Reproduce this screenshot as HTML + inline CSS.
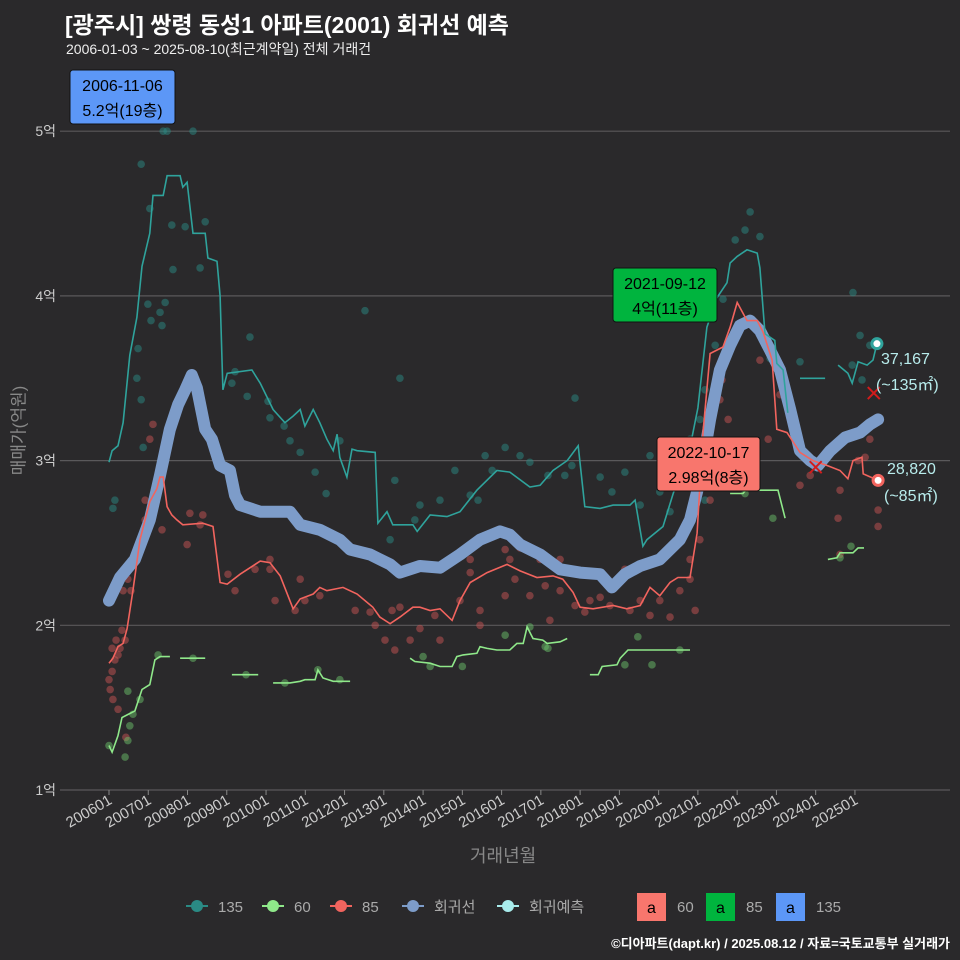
<!DOCTYPE html>
<html><head><meta charset="utf-8">
<style>
html,body{margin:0;padding:0;background:#2a292b;}
#wrap{position:relative;width:960px;height:960px;background:#2a292b;font-family:"Liberation Sans","Noto Sans CJK KR",sans-serif;color:#ddd;overflow:hidden}
.t{position:absolute;white-space:nowrap}
</style></head>
<body>
<div id="wrap">
<div class="t" style="left:65px;top:6px;font-size:23px;font-weight:bold;color:#fff">[광주시] 쌍령 동성1 아파트(2001) 회귀선 예측</div>
<div class="t" style="left:66px;top:39px;font-size:14px;color:#eee">2006-01-03 ~ 2025-08-10(최근계약일) 전체 거래건</div>
<div class="t" style="left:-28px;top:418px;font-size:17px;color:#888;transform:rotate(-90deg);width:90px;text-align:center">매매가(억원)</div>
<div class="t" style="left:470px;top:842px;font-size:18px;color:#888">거래년월</div>
<div class="t" style="right:10px;top:933px;font-size:13px;font-weight:bold;color:#fff">©디아파트(dapt.kr) / 2025.08.12 / 자료=국토교통부 실거래가</div>
<svg id="plot" width="960" height="960" style="position:absolute;left:0;top:0"></svg>
</div>
<script>
// ---- data ----
const yTicks=[1,2,3,4,5];
const yTickLabels=["1억","2억","3억","4억","5억"];
const xTickYears=[2006,2007,2008,2009,2010,2011,2012,2013,2014,2015,2016,2017,2018,2019,2020,2021,2022,2023,2024,2025];
const xTickLabels=["200601","200701","200801","200901","201001","201101","201201","201301","201401","201501","201601","201701","201801","201901","202001","202101","202201","202301","202401","202501"];

const regT=[2006.0,2006.28,2006.66,2007.04,2007.30,2007.55,2007.76,2007.94,2008.11,2008.24,2008.45,2008.62,2008.83,2009.08,2009.21,2009.34,2009.85,2010.61,2010.87,2011.37,2011.88,2012.14,2012.65,2013.16,2013.41,2013.92,2014.43,2014.94,2015.45,2015.96,2016.21,2016.47,2016.98,2017.49,2018.0,2018.51,2018.81,2019.14,2019.53,2020.03,2020.54,2020.80,2021.05,2021.31,2021.56,2021.82,2022.07,2022.33,2022.58,2022.84,2023.09,2023.35,2023.60,2023.86,2024.06,2024.37,2024.75,2025.13,2025.38,2025.59];
const regV=[2.15,2.29,2.40,2.64,2.91,3.19,3.34,3.43,3.52,3.44,3.19,3.13,2.97,2.94,2.79,2.73,2.69,2.69,2.61,2.58,2.52,2.46,2.43,2.37,2.32,2.36,2.35,2.43,2.52,2.57,2.55,2.49,2.43,2.34,2.32,2.31,2.23,2.31,2.36,2.40,2.52,2.64,2.88,3.25,3.55,3.70,3.82,3.85,3.79,3.67,3.55,3.31,3.06,3.00,2.97,3.06,3.14,3.17,3.22,3.25];

const s135T=[2006.00,2006.08,2006.23,2006.36,2006.53,2006.71,2006.84,2007.04,2007.12,2007.38,2007.48,2007.81,2007.88,2007.99,2008.14,2008.45,2008.52,2008.75,2008.83,2008.90,2009.01,2009.64,2009.85,2010.18,2010.48,2010.69,2010.87,2010.99,2011.20,2011.37,2011.55,2011.71,2011.81,2011.88,2012.06,2012.19,2012.32,2012.78,2012.85,2013.08,2013.23,2013.74,2013.85,2014.18,2014.61,2014.94,2015.37,2015.88,2016.21,2016.72,2016.98,2017.31,2017.67,2017.95,2018.12,2018.51,2018.84,2019.27,2019.40,2019.60,2019.70,2020.11,2020.37,2020.80,2021.00,2021.23,2021.49,2021.74,2021.82,2022.00,2022.25,2022.51,2022.58,2022.71,2022.96,2023.01,2023.17,2023.29,null,2023.60,2024.24,null,2024.57,2024.82,2024.93,2025.08,2025.31,2025.46,2025.56];
const s135V=[2.99,3.06,3.09,3.23,3.64,3.87,4.18,4.38,4.61,4.61,4.73,4.73,4.66,4.69,4.38,4.38,4.23,4.21,4.00,3.43,3.53,3.55,3.47,3.31,3.23,3.27,3.31,3.21,3.31,3.23,3.13,3.06,3.16,3.02,2.90,3.07,3.06,3.05,2.62,2.69,2.61,2.61,2.57,2.67,2.66,2.69,2.82,2.94,2.93,2.84,2.85,2.94,3.00,3.09,2.72,2.71,2.73,2.73,2.76,2.48,2.52,2.60,2.80,3.08,3.32,3.81,3.99,4.08,4.20,4.24,4.28,4.26,4.17,3.77,3.73,3.59,3.55,3.29,null,3.50,3.50,null,3.58,3.53,3.47,3.60,3.58,3.61,3.71];

const s85T=[2006.00,2006.10,2006.23,2006.36,2006.46,2006.61,2006.79,2006.92,2007.04,2007.22,2007.30,2007.38,2007.48,2007.60,2007.73,2007.88,2008.39,2008.65,2008.83,2009.01,2009.34,2009.85,2010.10,2010.36,2010.69,2010.87,2011.20,2011.37,2011.55,2011.96,2012.32,2012.72,2012.90,2013.16,2013.41,2013.74,2013.92,2014.18,2014.43,2014.74,2014.94,2015.20,2015.63,2016.14,2016.47,2016.90,2017.31,2017.56,2017.82,2018.00,2018.33,2018.84,2019.19,2019.53,2019.78,2020.03,2020.29,2020.49,2020.80,2020.98,2021.13,2021.31,2021.64,2021.82,2022.00,2022.25,2022.51,2022.66,2022.89,2023.01,2023.27,2023.60,2023.93,2024.29,2024.62,2024.82,2024.95,2025.18,2025.21,2025.59];
const s85V=[1.77,1.80,1.87,1.89,1.98,2.21,2.52,2.64,2.75,2.83,2.90,2.90,2.72,2.67,2.64,2.61,2.62,2.60,2.26,2.25,2.31,2.39,2.38,2.30,2.10,2.16,2.19,2.23,2.21,2.23,2.19,2.11,2.05,2.01,2.05,2.11,2.11,2.09,2.10,2.03,2.15,2.26,2.32,2.37,2.33,2.29,2.30,2.28,2.20,2.11,2.10,2.12,2.10,2.12,2.23,2.18,2.26,2.29,2.29,2.56,3.17,3.65,3.69,3.81,3.96,3.85,3.85,3.78,3.61,3.19,3.17,3.05,3.00,2.97,2.94,2.89,3.00,3.02,2.92,2.88];

const s60T=[2006.00,2006.08,2006.23,2006.33,2006.66,2006.84,2007.04,2007.17,2007.30,2007.55,null,2007.81,2008.45,null,2009.13,2009.80,null,2010.18,2010.61,2010.87,2010.99,2011.25,2011.32,2011.45,2011.71,2012.14,null,2013.67,2013.79,2014.18,2014.43,2014.74,2014.86,2015.02,2015.37,2015.45,2015.63,2015.88,2016.21,2016.39,2016.55,2016.65,2016.80,2017.05,2017.16,2017.49,2017.67,null,2018.25,2018.46,2018.56,2018.94,2019.02,2019.22,2020.80,null,2021.82,2022.15,2022.25,2022.58,2023.04,2023.22,null,2024.31,2024.54,2024.62,2024.95,2025.08,2025.23];
const s60V=[1.27,1.23,1.33,1.44,1.48,1.61,1.64,1.79,1.81,1.81,null,1.80,1.80,null,1.70,1.70,null,1.65,1.65,1.66,1.67,1.67,1.73,1.68,1.66,1.66,null,1.80,1.78,1.77,1.75,1.75,1.81,1.82,1.83,1.87,1.86,1.85,1.85,1.89,1.89,1.99,1.92,1.91,1.89,1.90,1.92,null,1.70,1.70,1.75,1.76,1.80,1.85,1.85,null,2.80,2.80,2.83,2.82,2.82,2.65,null,2.40,2.41,2.44,2.44,2.47,2.47];

const p135T=[2007.38,2007.48,2008.14,2006.82,2007.04,2007.60,2007.94,2008.45,2008.32,2007.63,2007.35,2007.43,2006.99,2007.07,2006.74,2006.71,2006.82,2006.87,2007.30,2006.15,2006.10,2009.59,2009.21,2009.13,2009.52,2010.05,2010.46,2010.10,2010.61,2010.87,2011.25,2011.53,2011.88,2012.52,2013.41,2013.28,2013.79,2014.43,2014.81,2015.20,2015.58,2015.76,2016.47,2016.72,2017.18,2017.61,2017.79,2018.51,2018.81,2019.14,2019.53,2020.03,2020.29,2020.80,2021.18,2021.44,2021.64,2021.95,2022.20,2022.33,2022.58,2022.84,2023.60,2024.95,2025.13,2025.18,2024.93,2025.38,2019.78,2017.87,2016.09,2015.40,2013.92,2013.16,2021.05,2020.80,2021.56,2021.18];
const p135V=[5.00,5.00,5.00,4.80,4.53,4.43,4.42,4.45,4.17,4.16,3.82,3.96,3.95,3.85,3.68,3.50,3.37,3.08,3.90,2.76,2.71,3.75,3.54,3.47,3.39,3.36,3.21,3.26,3.12,3.05,2.93,2.80,3.12,3.91,3.50,2.88,2.64,2.76,2.94,2.79,3.03,2.94,3.03,2.99,2.91,2.91,2.97,2.90,2.81,2.93,2.73,2.81,2.69,2.94,3.43,3.70,3.98,4.34,4.40,4.51,4.36,3.62,3.60,4.02,3.76,3.49,3.58,3.70,3.03,3.38,3.08,2.76,2.73,2.52,3.25,3.13,2.88,2.76];

const p85T=[2006.00,2006.08,2006.15,2006.23,2006.03,2006.10,2006.18,2006.28,2006.33,2006.41,2006.08,2006.23,2006.43,2006.36,2006.48,2006.56,2006.79,2006.92,2007.04,2007.12,2006.92,2007.35,2008.06,2008.32,2008.39,2007.99,2009.03,2009.21,2010.10,2009.72,2010.23,2010.10,2010.87,2010.99,2010.74,2011.37,2012.27,2012.65,2013.21,2013.41,2012.78,2013.03,2013.28,2013.67,2014.30,2015.20,2014.94,2016.09,2016.21,2016.47,2016.09,2016.72,2016.98,2017.11,2017.49,2017.87,2018.25,2018.51,2018.76,2018.12,2019.14,2019.53,2020.03,2020.29,2020.54,2020.80,2020.93,2021.05,2021.31,2021.44,2021.56,2021.61,2021.77,2021.82,2022.58,2022.79,2023.09,2023.60,2023.86,2024.11,2024.62,2024.57,2025.08,2025.26,2025.38,2025.59,2025.59,2024.62,2020.80,2019.78,2019.27,2017.23,2015.45,2015.45,2013.92,2014.43,2015.20,2016.34,2017.49];
const p85V=[1.67,1.72,1.79,1.82,1.61,1.55,1.91,1.86,1.97,1.91,1.86,1.49,1.32,2.21,2.28,2.21,2.52,2.64,3.13,3.22,2.76,2.58,2.68,2.61,2.67,2.49,2.31,2.21,2.40,2.34,2.15,2.34,2.28,2.15,2.09,2.18,2.09,2.08,2.09,2.11,2.00,1.91,1.85,1.91,2.06,2.32,2.15,2.46,2.40,2.47,2.18,2.18,2.40,2.24,2.21,2.12,2.15,2.17,2.12,2.08,2.34,2.15,2.15,2.05,2.21,2.40,2.09,2.52,2.76,2.94,3.37,3.49,3.25,3.70,3.61,3.13,3.40,2.85,2.91,2.97,2.82,2.65,3.00,3.02,3.13,2.70,2.60,2.43,2.28,2.06,2.09,2.03,2.00,2.09,1.98,1.91,2.40,2.28,2.40];

const p60T=[2006.00,2006.41,2006.48,2006.53,2006.61,2006.48,2006.79,2007.25,2008.14,2009.49,2010.48,2011.32,2011.88,2014.00,2014.18,2015.00,2016.09,2016.72,2017.11,2017.18,2019.14,2019.47,2019.83,2020.54,2022.20,2022.91,2024.62,2024.90];
const p60V=[1.27,1.20,1.30,1.39,1.46,1.60,1.55,1.82,1.80,1.70,1.65,1.73,1.67,1.81,1.75,1.75,1.94,1.99,1.87,1.86,1.76,1.93,1.76,1.85,2.80,2.65,2.41,2.48];

const pred135=[2025.56,3.71]; const pred85=[2025.59,2.88];
const cross85=[[2025.48,3.41],[2024.0,2.96]];

// ---- scales ----
const X0=109, XS=39.26, Y1=790, YS=164.7;
function xs(t){return X0+(t-2006)*XS;}
function ys(v){return Y1-(v-1)*YS;}
const svg=document.getElementById('plot');
const NS='http://www.w3.org/2000/svg';
function mk(tag,attrs,parent){const e=document.createElementNS(NS,tag);for(const k in attrs)e.setAttribute(k,attrs[k]);(parent||svg).appendChild(e);return e;}

yTicks.forEach((v,i)=>{
  const g=mk('line',{x1:60,x2:950,y1:ys(v),y2:ys(v),stroke:'#5a595b','stroke-width':1.2});
  
  
  const t=mk('text',{x:56,y:ys(v)+5,'text-anchor':'end','font-size':14,fill:'#ccc','font-family':'Liberation Sans, Noto Sans CJK KR, sans-serif'});
  t.textContent=yTickLabels[i];
  
  
});
xTickYears.forEach((yr,i)=>{
  const x=xs(yr);
  const tk=mk('line',{x1:x,x2:x,y1:790,y2:795,stroke:'#888','stroke-width':1});
  
  
  const t=mk('text',{x:x+4,y:803,'text-anchor':'end','font-size':15,fill:'#ccc',transform:`rotate(-30 ${x+4} 803)`,'font-family':'Liberation Sans, sans-serif'});
  t.textContent=xTickLabels[i];
  
  
});

function pathFrom(T,V){let d='',pen=false;for(let i=0;i<T.length;i++){if(T[i]===null){pen=false;continue;}d+=(pen?'L':'M')+xs(T[i]).toFixed(1)+','+ys(V[i]).toFixed(1);pen=true;}return d;}
function pts(T,V,col,name){T.forEach((t,i)=>{const c=mk('circle',{cx:xs(t),cy:ys(V[i]),r:3.8,fill:col,'fill-opacity':0.5});
  
  });}

pts(p135T,p135V,'#2a8a84','point-135');
pts(p85T,p85V,'#c65353','point-85');
pts(p60T,p60V,'#6abf6a','point-60');

const reg=mk('path',{d:pathFrom(regT,regV),fill:'none',stroke:'#7d9cc9','stroke-width':12,'stroke-linejoin':'round','stroke-linecap':'round'});


const l135=mk('path',{d:pathFrom(s135T,s135V),fill:'none',stroke:'#2fa39c','stroke-width':1.6});


const l85=mk('path',{d:pathFrom(s85T,s85V),fill:'none',stroke:'#f2645e','stroke-width':1.6});


const l60=mk('path',{d:pathFrom(s60T,s60V),fill:'none',stroke:'#8fe88a','stroke-width':1.6});



cross85.forEach(p=>{const x=xs(p[0]),y=ys(p[1]);
  const c=mk('path',{d:`M${x-6},${y-6}L${x+6},${y+6}M${x-6},${y+6}L${x+6},${y-6}`,stroke:'#d21c1c','stroke-width':2});
  
  });
[[pred135,'#2fa39c','prediction-135-marker'],[pred85,'#f2645e','prediction-85-marker']].forEach(a=>{
  const c=mk('circle',{cx:xs(a[0][0]),cy:ys(a[0][1]),r:5,fill:'#fff',stroke:a[1],'stroke-width':3});
  
  });

function lbl(x,y,txt,name){const t=mk('text',{x:x,y:y,'font-size':16,fill:'#b8ecec','font-family':'Liberation Sans, Noto Sans CJK KR, sans-serif'});t.textContent=txt;
  
  }
lbl(881,364,'37,167','prediction-135-value');
lbl(876,390,'(~135㎡)','prediction-135-area');
lbl(887,474,'28,820','prediction-85-value');
lbl(884,501,'(~85㎡)','prediction-85-area');

function box(x,y,w,h,col,l1,l2,name){const g=mk('g',{});
  
  
  mk('rect',{x:x,y:y,width:w,height:h,rx:3,fill:col,stroke:'#111','stroke-width':1},g);
  const a=mk('text',{x:x+w/2,y:y+21,'text-anchor':'middle','font-size':16,fill:'#000','font-family':'Liberation Sans, Noto Sans CJK KR, sans-serif'},g);a.textContent=l1;
  const b=mk('text',{x:x+w/2,y:y+46,'text-anchor':'middle','font-size':16,fill:'#000','font-family':'Liberation Sans, Noto Sans CJK KR, sans-serif'},g);b.textContent=l2;}
box(70,70,105,54,'#5c97f7','2006-11-06','5.2억(19층)','max-label-135');
box(613,268,104,54,'#00b43e','2021-09-12','4억(11층)','max-label-85');
box(657,437,103,54,'#f8766d','2022-10-17','2.98억(8층)','max-label-60');

const legItems=[['#2a8a84','135'],['#8fe88a','60'],['#f2645e','85'],['#7d9cc9','회귀선'],['#a8ecec','회귀예측']];
const legX=[186,262,330,402,497];
legItems.forEach((it,i)=>{const x=legX[i],y=906;
  const g=mk('g',{});
  
  
  mk('line',{x1:x,x2:x+22,y1:y,y2:y,stroke:it[0],'stroke-width':2},g);
  mk('circle',{cx:x+11,cy:y,r:6,fill:it[0]},g);
  const t=mk('text',{x:x+32,y:y+6,'font-size':15,fill:'#aaa','font-family':'Liberation Sans, Noto Sans CJK KR, sans-serif'},g);t.textContent=it[1];});
const boxLeg=[['#f8766d','60',637],['#00b43e','85',706],['#5c97f7','135',776]];
boxLeg.forEach(b=>{const g=mk('g',{});
  
  
  mk('rect',{x:b[2],y:893,width:29,height:28,fill:b[0]},g);
  const a=mk('text',{x:b[2]+14.5,y:913,'text-anchor':'middle','font-size':16,fill:'#000','font-family':'Liberation Sans, sans-serif'},g);a.textContent='a';
  const t=mk('text',{x:b[2]+40,y:912,'font-size':15,fill:'#aaa','font-family':'Liberation Sans, sans-serif'},g);t.textContent=b[1];});
</script>
</body></html>
